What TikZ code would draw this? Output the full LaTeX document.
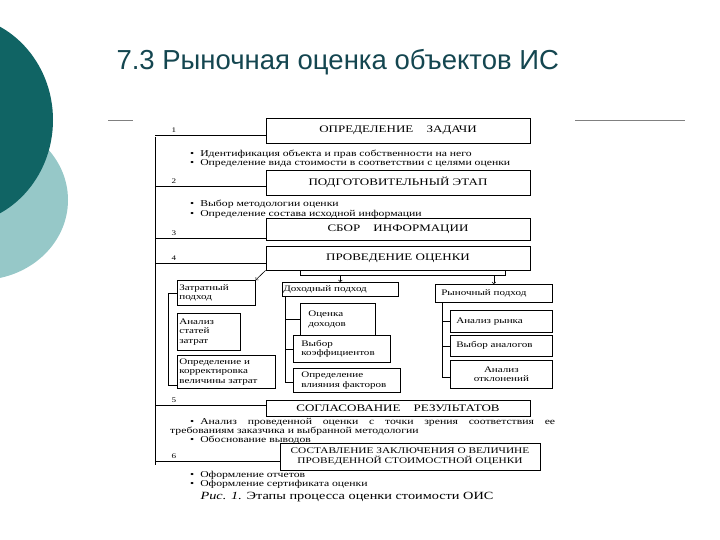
\documentclass[tikz,border=0pt]{standalone}
\usepackage{fontspec}
\setmainfont[FakeStretch=1.3]{Liberation Serif}
\newfontfamily\titlefont{Liberation Sans}
\definecolor{tealD}{RGB}{16,100,100}
\definecolor{tealL}{RGB}{150,200,200}
\definecolor{titleC}{RGB}{20,70,80}
\begin{document}
\begin{tikzpicture}[x=1pt,y=-1pt,
  stage/.style={draw,line width=0.8pt,minimum height=22pt,font=\fontsize{10}{11}\selectfont,inner sep=1pt},
  sub/.style={draw,line width=0.7pt,align=left,font=\fontsize{8.5}{9.5}\selectfont,inner sep=2pt,anchor=north west},
  num/.style={font=\fontsize{7}{8}\selectfont},
  txt/.style={font=\fontsize{9}{9}\selectfont,anchor=west,inner sep=0pt},
  ln/.style={line width=0.6pt}]
\useasboundingbox (0,0) rectangle (720,540);
\fill[tealL] (-20,200) ellipse [x radius=88, y radius=80];
\fill[tealD] (-45,120) ellipse [x radius=98, y radius=105];
\node[anchor=west,text=titleC,font=\titlefont\fontsize{27.5}{30}\selectfont] (title) at (113,62) {7.3 Рыночная оценка объектов ИС};
\coordinate (tl1) at (108,120); \coordinate (tl2) at (133,120);
\draw[ln,gray] (tl1) -- (tl2);
\coordinate (tr1) at (575,120); \coordinate (tr2) at (685,120);
\draw[ln,gray] (tr1) -- (tr2);
% spine
\coordinate (sT) at (155,137); \coordinate (sB) at (155,465);
\draw[ln] (sT) -- (sB);
% stages
\node[stage,minimum width=264pt,minimum height=25pt] (s1) at (398,130.5) {ОПРЕДЕЛЕНИЕ \quad ЗАДАЧИ};
\node[stage,minimum width=264pt,minimum height=25pt] (s2) at (398,182.5) {ПОДГОТОВИТЕЛЬНЫЙ ЭТАП};
\node[stage,minimum width=264pt,minimum height=22pt] (s3) at (398,229) {СБОР \quad ИНФОРМАЦИИ};
\node[stage,minimum width=264pt,minimum height=24pt] (s4) at (398,258) {ПРОВЕДЕНИЕ ОЦЕНКИ};
\node[stage,minimum width=264pt,minimum height=16pt] (s5) at (398,408) {СОГЛАСОВАНИЕ \quad РЕЗУЛЬТАТОВ};
\node[stage,minimum width=260pt,minimum height=27pt,align=center,font=\fontsize{8.7}{10}\selectfont] (s6) at (410,456.5) {СОСТАВЛЕНИЕ ЗАКЛЮЧЕНИЯ О ВЕЛИЧИНЕ\\ПРОВЕДЕННОЙ СТОИМОСТНОЙ ОЦЕНКИ};
% numbers and connectors
\foreach \n/\y/\s in {1/135/s1,2/186/s2,3/238/s3,4/263/s4,5/405/s5,6/461/s6}{
  \node[num] (n\n) at (174,\y-5) {\n};
  \coordinate (c\n) at (155,\y);
  \draw[ln] (c\n) -- (\s.west |- c\n);
}
% bullets
\node[txt] (b1) at (190,154) {\textbullet\hspace{6pt}Идентификация объекта и прав собственности на него};
\node[txt] (b2) at (190,163) {\textbullet\hspace{6pt}Определение вида стоимости в соответствии с целями оценки};
\node[txt] (b3) at (190,204) {\textbullet\hspace{6pt}Выбор методологии оценки};
\node[txt] (b4) at (190,214) {\textbullet\hspace{6pt}Определение состава исходной информации};
\node[txt,text width=365pt,align=justify] (b5) at (190,422) {\textbullet\hspace{6pt}Анализ \hfill проведенной \hfill оценки \hfill с \hfill точки \hfill зрения \hfill соответствия \hfill ее};
\node[txt] (b5b) at (170,431) {требованиям заказчика и выбранной методологии};
\node[txt] (b6) at (190,440) {\textbullet\hspace{6pt}Обоснование выводов};
\node[txt] (b7) at (190,475) {\textbullet\hspace{6pt}Оформление отчетов};
\node[txt] (b8) at (190,484) {\textbullet\hspace{6pt}Оформление сертификата оценки};
% approaches
\node[sub,text width=74pt,minimum height=25pt] (z) at (177,280) {Затратный\\подход};
\node[sub,text width=59pt,minimum height=37pt] (z1) at (177,313) {Анализ\\статей\\затрат};
\node[sub,text width=94pt,minimum height=33pt] (z2) at (177,355) {Определение и\\корректировка\\величины затрат};
\node[sub,text width=114pt,minimum height=14pt,inner sep=1pt] (d) at (282,282) {Доходный подход};
\node[sub,text width=71pt,minimum height=32pt] (d1) at (300,303) {\hspace{6pt}Оценка\\\hspace{6pt}доходов};
\node[sub,text width=93pt,minimum height=27pt] (d2) at (293,335) {\hspace{6pt}Выбор\\\hspace{6pt}коэффициентов};
\node[sub,text width=103pt,minimum height=24pt] (d3) at (293,368) {\hspace{6pt}Определение\\\hspace{6pt}влияния факторов};
\node[sub,text width=113pt,minimum height=18pt] (r) at (435,284) {\hspace{4pt}Рыночный подход};
\node[sub,text width=98pt,minimum height=22pt] (r1) at (450,310) {\hspace{4pt}Анализ рынка};
\node[sub,text width=98pt,minimum height=21pt] (r2) at (450,335) {\hspace{4pt}Выбор аналогов};
\node[sub,text width=98pt,minimum height=28pt,align=center] (r3) at (450,360) {Анализ\\отклонений};
% arrows from stage 4
\coordinate (h1) at (300,275); \coordinate (h2) at (505,275);
\draw[ln] (s4.south -| h1) -- (h1) -- (h2) -- (s4.south -| h2);
\draw[ln,->] (h1 -| d.north) -- (d.north);
\draw[ln,->] (h1 -| r.north) -- (r.north);
\draw[ln,->] (s4.south west) -- (z.north east);
% brackets
\coordinate (zb1) at (168,293); \coordinate (zb2) at (168,385);
\draw[ln] (z.west |- zb1) -- (zb1) -- (zb2) -- (z2.west |- zb2);
\coordinate (db1) at (285,296); \coordinate (db2) at (285,382);
\draw[ln] (db1) -- (db2) -- (d3.west |- db2);
\draw[ln] (db1 |- d1.west) -- (d1.west);
\draw[ln] (db1 |- d2.west) -- (d2.west);
\coordinate (rb1) at (442,302); \coordinate (rb2) at (442,377);
\draw[ln] (rb1) -- (rb2) -- (r3.west |- rb2);
\draw[ln] (rb1 |- r1.west) -- (r1.west);
\draw[ln] (rb1 |- r2.west) -- (r2.west);
% caption
\node[font=\fontsize{11}{12}\selectfont] (cap) at (347,497) {\textit{Рис. 1.} Этапы процесса оценки стоимости ОИС};
\end{tikzpicture}
\end{document}
